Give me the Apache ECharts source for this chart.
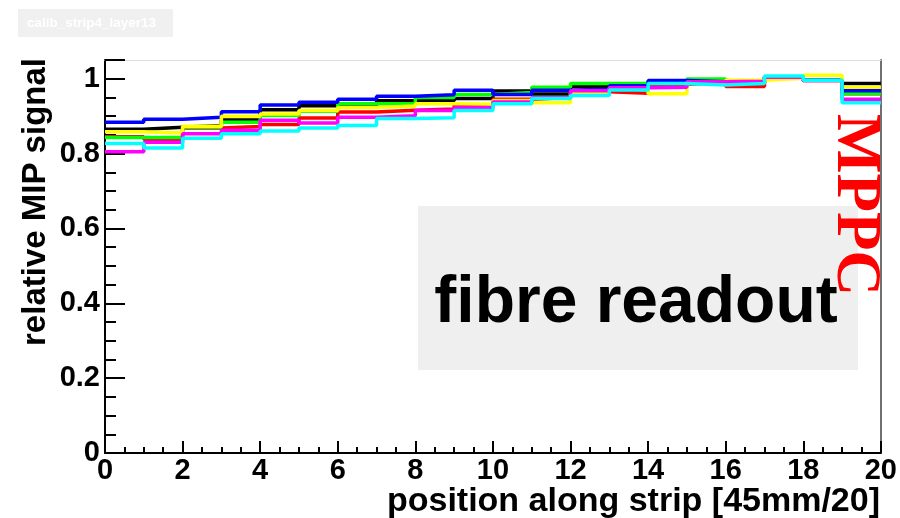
<!DOCTYPE html>
<html>
<head>
<meta charset="utf-8">
<script src="https://cdn.jsdelivr.net/npm/echarts@6/dist/echarts.min.js"></script>
<style>
  html, body { margin: 0; padding: 0; background: #fff; }
  #chart { width: 900px; height: 518px; }
</style>
</head>
<body>
<div id="chart"></div>
<script>
// Relative MIP signal per position bin, one histogram per channel
const binEdges = [0, 1, 2, 3, 4, 5, 6, 7, 8, 9, 10, 11, 12, 13, 14, 15, 16, 17, 18, 19, 20];

const blackVals   = [0.865, 0.870, 0.875, 0.890, 0.917, 0.928, 0.928, 0.941, 0.941, 0.947, 0.967, 0.959, 0.979, 0.985, 0.990, 0.995, 0.990, 1.003, 0.996, 0.987];
const redVals     = [0.845, 0.838, 0.868, 0.872, 0.878, 0.895, 0.911, 0.916, 0.919, 0.930, 0.945, 0.950, 0.965, 0.961, 0.985, 0.990, 0.979, 1.004, 0.995, 0.960];
const greenVals   = [0.843, 0.843, 0.870, 0.884, 0.902, 0.913, 0.933, 0.934, 0.950, 0.958, 0.963, 0.977, 0.987, 0.987, 0.993, 0.999, 0.990, 1.002, 0.996, 0.960];
const blueVals    = [0.884, 0.892, 0.897, 0.912, 0.930, 0.937, 0.945, 0.953, 0.957, 0.969, 0.958, 0.969, 0.972, 0.981, 0.995, 0.992, 0.990, 1.003, 0.996, 0.968];
const yellowVals  = [0.858, 0.855, 0.873, 0.900, 0.906, 0.915, 0.923, 0.927, 0.933, 0.932, 0.942, 0.936, 0.962, 0.975, 0.960, 0.990, 0.996, 1.001, 1.009, 0.977];
const magentaVals = [0.805, 0.830, 0.853, 0.862, 0.889, 0.882, 0.897, 0.901, 0.915, 0.923, 0.938, 0.949, 0.968, 0.976, 0.977, 0.992, 0.993, 1.004, 0.995, 0.945];
const cyanVals    = [0.827, 0.815, 0.841, 0.853, 0.860, 0.868, 0.875, 0.894, 0.896, 0.915, 0.933, 0.947, 0.955, 0.970, 0.987, 0.983, 0.987, 1.007, 0.996, 0.936];

const channels = [
  { name: 'black',   color: '#000000', values: blackVals },
  { name: 'red',     color: '#ff0000', values: redVals },
  { name: 'green',   color: '#00ff00', values: greenVals },
  { name: 'blue',    color: '#0000ff', values: blueVals },
  { name: 'yellow',  color: '#ffff00', values: yellowVals },
  { name: 'magenta', color: '#ff00ff', values: magentaVals },
  { name: 'cyan',    color: '#00ffff', values: cyanVals }
];

const xTitle = 'position along strip [45mm/20]';
const yTitle = 'relative MIP signal';
const histName = 'calib_strip4_layer13';
const boxText = 'fibre readout';
const sideText = 'MPPC';

const SANS = "'Liberation Sans', Arial, Helvetica, sans-serif";
const SERIF = "'Liberation Serif', 'Times New Roman', serif";

// histogram outline: each bin drawn flat from its low edge to its high edge
function histPoints(values) {
  const pts = values.map((v, i) => [binEdges[i], v]);
  pts.push([binEdges[binEdges.length - 1], values[values.length - 1]]);
  return pts;
}

const chart = echarts.init(document.getElementById('chart'), null, { renderer: 'canvas' });

const tickLabel = { color: '#000', fontFamily: SANS, fontWeight: 'bold', fontSize: 29 };

chart.setOption({
  animation: false,
  backgroundColor: '#ffffff',
  grid: { left: 105, right: 19, top: 60, bottom: 65, containLabel: false },
  xAxis: [
    {
      type: 'value', min: 0, max: 20, interval: 2,
      axisLine: { show: true, onZero: false, lineStyle: { color: '#000', width: 2 } },
      axisTick: { show: true, inside: true, length: 12, lineStyle: { color: '#000', width: 2 } },
      minorTick: { show: true, splitNumber: 4, length: 6, lineStyle: { color: '#000', width: 2 } },
      axisLabel: Object.assign({ margin: 3 }, tickLabel),
      splitLine: { show: false }
    },
    {
      type: 'value', min: 0, max: 20, position: 'top',
      axisLine: { show: true, onZero: false, lineStyle: { color: '#dddddd', width: 1 } },
      axisTick: { show: false }, axisLabel: { show: false }, splitLine: { show: false }
    }
  ],
  yAxis: [
    {
      type: 'value', min: 0, max: 1.05, interval: 0.2,
      axisLine: { show: true, onZero: false, lineStyle: { color: '#000', width: 2 } },
      axisTick: { show: true, inside: true, length: 20, lineStyle: { color: '#000', width: 2 } },
      minorTick: { show: true, splitNumber: 4, length: 11, lineStyle: { color: '#000', width: 2 } },
      axisLabel: Object.assign({ margin: 5, formatter: v => String(+v.toFixed(2)) }, tickLabel),
      splitLine: { show: false }
    },
    {
      type: 'value', min: 0, max: 1.05, position: 'right',
      axisLine: { show: true, onZero: false, lineStyle: { color: '#707070', width: 2 } },
      axisTick: { show: false }, axisLabel: { show: false }, splitLine: { show: false }
    }
  ],
  series: channels.map(ch => ({
    name: ch.name,
    type: 'line',
    step: 'end',
    xAxisIndex: 0,
    yAxisIndex: 0,
    symbol: 'none',
    data: histPoints(ch.values),
    lineStyle: { color: ch.color, width: 3.5 },
    itemStyle: { color: ch.color },
    z: 3
  })),
  graphic: [
    {
      type: 'rect', left: 18, top: 9, z: 1,
      shape: { width: 155, height: 28 },
      style: { fill: '#f0f0f0' }
    },
    {
      type: 'text', x: 27, y: 23, z: 2,
      style: {
        text: histName, fill: '#ffffff', font: "bold 13.5px " + SANS,
        textAlign: 'left', textVerticalAlign: 'middle', align: 'left', verticalAlign: 'middle'
      }
    },
    {
      type: 'rect', left: 418, top: 206, z: 1,
      shape: { width: 440, height: 164 },
      style: { fill: '#efefef' }
    },
    {
      type: 'text', x: 636, y: 304, z: 2,
      style: {
        text: boxText, fill: '#000', font: "bold 66px " + SANS,
        textAlign: 'center', textVerticalAlign: 'middle', align: 'center', verticalAlign: 'middle'
      }
    },
    {
      type: 'text', x: 854, y: 205, rotation: -Math.PI / 2, z: 5,
      style: {
        text: sideText, fill: '#ff0000', font: "bold 63px " + SERIF,
        textAlign: 'center', textVerticalAlign: 'middle', align: 'center', verticalAlign: 'middle'
      }
    },
    {
      type: 'text', x: 36, y: 202, rotation: Math.PI / 2, z: 2,
      style: {
        text: yTitle, fill: '#000', font: "bold 33px " + SANS,
        textAlign: 'center', textVerticalAlign: 'middle', align: 'center', verticalAlign: 'middle'
      }
    },
    {
      type: 'text', x: 880, y: 502, z: 2,
      style: {
        text: xTitle, fill: '#000', font: "bold 34px " + SANS,
        textAlign: 'right', textVerticalAlign: 'middle', align: 'right', verticalAlign: 'middle'
      }
    }
  ]
});
</script>
</body>
</html>
